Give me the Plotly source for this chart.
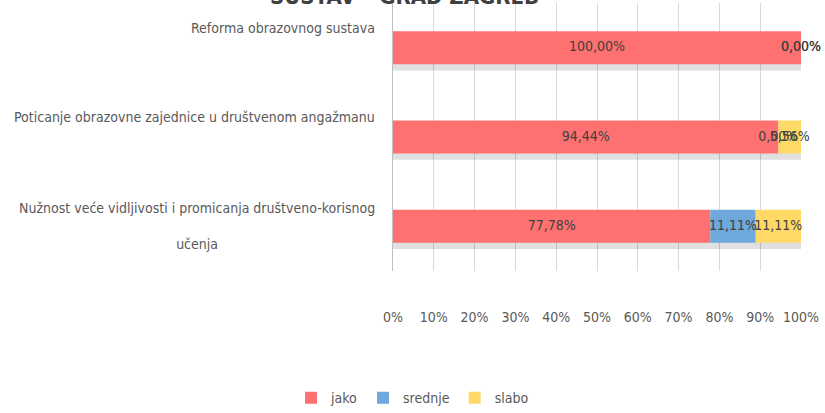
import plotly.graph_objects as go

categories = [
    "Reforma obrazovnog sustava",
    "Poticanje obrazovne zajednice u društvenom angažmanu",
    "Nužnost veće vidljivosti i promicanja društveno-korisnog<br><br>učenja",
]
series_names = ["jako", "srednje", "slabo"]
jako = [100.00, 94.44, 77.78]
srednje = [0.00, 0.00, 11.11]
slabo = [0.00, 5.56, 11.11]
x_ticks = [0, 10, 20, 30, 40, 50, 60, 70, 80, 90, 100]
title_text = "SUSTAV – GRAD ZAGREB"

colors = ["#FF7070", "#6FA8DC", "#FFD966"]
FONT = "Liberation Sans Narrow, DejaVu Sans Condensed, Arial Narrow, sans-serif"
series = [jako, srednje, slabo]

fig = go.Figure()

# subtle drop shadow under each full bar
totals = [a + b + c for a, b, c in zip(jako, srednje, slabo)]
fig.add_trace(go.Bar(
    y=categories, x=totals, base=[0] * len(totals), orientation="h",
    marker=dict(color="rgba(0,0,0,0.12)", line=dict(width=0)),
    width=0.37, offset=-0.115, showlegend=False, hoverinfo="skip",
))

cum = [0.0] * len(categories)
for name, vals, col in zip(series_names, series, colors):
    fig.add_trace(go.Bar(
        y=categories, x=vals, base=list(cum), name=name, orientation="h",
        marker=dict(color=col, line=dict(width=0)),
        width=0.37, offset=-0.185,
    ))
    cum = [c + v for c, v in zip(cum, vals)]

# data labels (centered in each segment)
lx, ly, lt = [], [], []
for i, cat in enumerate(categories):
    c = 0
    for vals in series:
        v = vals[i]
        lx.append(c + v / 2)
        ly.append(cat)
        lt.append(f"{v:.2f}".replace(".", ",") + "%")
        c += v
fig.add_trace(go.Scatter(
    x=lx, y=ly, mode="text", text=lt, textposition="middle center",
    textfont=dict(family=FONT, size=14, color="#404040"),
    showlegend=False, hoverinfo="skip", cliponaxis=False,
))

# category labels (Excel-style wrapped block)
for cat in categories:
    fig.add_annotation(
        x=0, xref="paper", y=cat, yref="y", xanchor="right", xshift=-16,
        yshift=(20 if "<br>" not in cat else 0),
        text=cat, showarrow=False, align="center",
        font=dict(family=FONT, size=14, color="#595959"),
    )

# chart title, mostly cut off at the top as in the reference
fig.add_annotation(
    x=0.027, xref="paper", y=1, yref="paper", xanchor="center",
    yanchor="middle", yshift=7,
    text=f"<b>{title_text}</b>", showarrow=False,
    font=dict(family=FONT, size=22, color="#404040"),
)

fig.update_layout(
    width=825, height=413,
    margin=dict(l=393, r=24, t=3, b=142, autoexpand=False),
    barmode="overlay",
    plot_bgcolor="white", paper_bgcolor="white",
    font=dict(family=FONT, size=14, color="#595959"),
    legend=dict(
        orientation="h", xref="container", yref="container",
        x=0.5, xanchor="center", y=0.036, yanchor="middle",
        font=dict(family=FONT, size=14, color="#595959"),
        itemwidth=30, traceorder="normal",
    ),
    showlegend=True,
)
fig.update_xaxes(
    range=[0, 100], tickvals=x_ticks, ticktext=[f"{t}%" for t in x_ticks],
    showgrid=True, gridcolor="#D9D9D9", gridwidth=1, zeroline=False,
    ticks="", ticklabelstandoff=36,
    tickfont=dict(family=FONT, size=14, color="#595959"),
)
fig.update_yaxes(
    autorange="reversed", showticklabels=False, showgrid=False,
    showline=True, linecolor="#BFBFBF", linewidth=1, ticks="",
)

fig.write_html(
    "out.html",
    config={"displayModeBar": False},
    post_script="document.body.style.margin='0';document.body.style.padding='0';",
)
